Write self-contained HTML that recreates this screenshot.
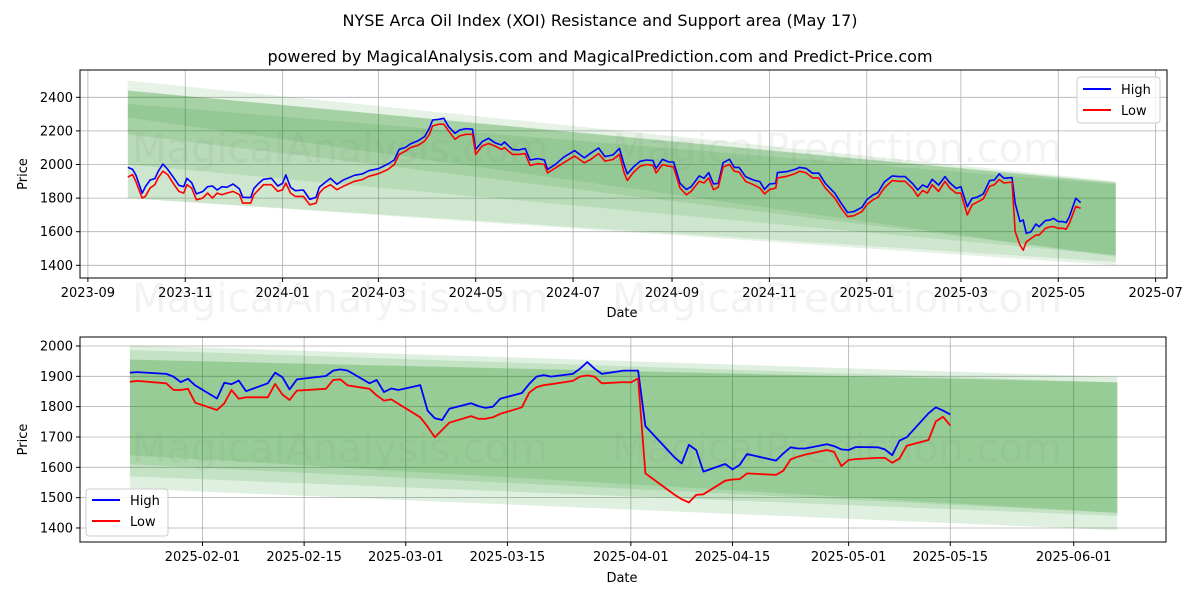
<!DOCTYPE html>
<html><head><meta charset="utf-8"><style>
body{margin:0;background:#fff}
svg{display:block;font-family:"DejaVu Sans","Liberation Sans",sans-serif}
</style></head><body>
<svg id="chart" width="1200" height="600" viewBox="0 0 1200 600" xmlns="http://www.w3.org/2000/svg">
<rect width="1200" height="600" fill="#fff"/>
<text x="600" y="26" font-size="16" text-anchor="middle">NYSE Arca Oil Index (XOI) Resistance and Support area (May 17)</text>
<text x="600" y="62" font-size="16" text-anchor="middle">powered by MagicalAnalysis.com and MagicalPrediction.com and Predict-Price.com</text>
<g id="top"></g>
<g id="bot"></g>
</svg>
<script>
// ---- top chart data (days since 2023-09-01) ----
const topDays=[25,28,30,34,36,39,42,44,47,50,54,57,60,62,65,68,72,75,78,81,84,87,91,95,97,102,104,107,110,115,119,122,124,127,130,135,139,143,145,148,152,156,160,167,172,176,182,188,192,195,199,202,207,211,214,216,220,223,226,230,233,237,241,243,247,251,255,259,261,266,270,274,277,282,286,288,293,298,305,311,315,320,324,329,333,336,338,342,346,350,354,356,360,364,367,371,375,378,383,386,389,392,395,398,402,405,408,412,417,421,424,427,431,432,438,443,446,450,454,458,462,468,472,476,480,485,488,492,495,499,504,508,512,517,520,523,526,529,533,537,540,544,547,551,554,557,561,565,568,571,574,579,581,584,586,588,591,594,596,600,603,605,608,611,613,615,619,622];
const topHigh=[1983,1971,1938,1829,1868,1908,1916,1958,2003,1971,1918,1876,1868,1918,1892,1825,1839,1868,1872,1848,1868,1864,1884,1854,1805,1803,1858,1888,1912,1918,1872,1888,1938,1864,1844,1848,1793,1805,1864,1888,1918,1882,1908,1936,1944,1963,1975,2003,2027,2090,2102,2122,2142,2166,2216,2265,2269,2275,2225,2186,2206,2213,2210,2090,2136,2156,2130,2116,2134,2090,2087,2095,2027,2035,2027,1971,2001,2043,2083,2039,2067,2098,2047,2057,2096,1997,1944,1987,2019,2027,2023,1977,2031,2015,2015,1888,1852,1868,1932,1918,1952,1884,1888,2011,2031,1983,1983,1928,1908,1898,1852,1884,1888,1952,1958,1971,1983,1977,1948,1948,1888,1829,1769,1714,1720,1745,1789,1819,1832,1896,1932,1928,1928,1884,1848,1878,1864,1912,1878,1928,1892,1858,1868,1749,1799,1805,1825,1904,1908,1944,1918,1922,1769,1660,1670,1590,1600,1646,1630,1666,1670,1680,1660,1660,1654,1690,1799,1773];
const topLow=[1925,1940,1900,1800,1810,1860,1880,1920,1960,1940,1880,1840,1830,1880,1860,1790,1800,1830,1800,1830,1820,1830,1840,1820,1770,1770,1820,1850,1880,1880,1840,1850,1890,1830,1810,1810,1760,1770,1830,1860,1880,1850,1870,1900,1910,1930,1945,1970,2000,2060,2080,2100,2115,2140,2180,2230,2240,2240,2200,2150,2170,2180,2180,2060,2110,2125,2110,2090,2100,2060,2060,2065,1995,2005,2000,1950,1980,2010,2050,2010,2030,2065,2020,2030,2060,1950,1905,1955,1990,2000,1995,1950,2000,1990,1985,1860,1820,1840,1900,1890,1920,1850,1865,1985,2000,1960,1955,1900,1880,1860,1825,1850,1860,1920,1930,1945,1960,1950,1920,1920,1860,1800,1740,1690,1695,1720,1760,1790,1805,1860,1905,1900,1900,1855,1810,1845,1830,1880,1840,1900,1860,1830,1830,1700,1760,1775,1795,1870,1880,1910,1890,1895,1600,1520,1490,1540,1560,1580,1580,1620,1630,1630,1620,1620,1615,1650,1750,1740];
const topBandStartDay=25, topBandEndDay=644;
const topBandsTop0=[2500,2440,2440,2440,2360];
const topBandsBot0=[1800,1800,2000,2180,2280];
const topBandsTop1=[1900,1895,1890,1890,1880];
const topBandsBot1=[1400,1420,1460,1460,1450];
const topYTicks=[1400,1600,1800,2000,2200,2400];
const topXTicks=["2023-09","2023-11","2024-01","2024-03","2024-05","2024-07","2024-09","2024-11","2025-01","2025-03","2025-05","2025-07"];
// ---- bottom chart data ----
const botDates=["2025-01-22","2025-01-23","2025-01-27","2025-01-28","2025-01-29","2025-01-30","2025-01-31","2025-02-03","2025-02-04","2025-02-05","2025-02-06","2025-02-07","2025-02-10","2025-02-11","2025-02-12","2025-02-13","2025-02-14","2025-02-18","2025-02-19","2025-02-20","2025-02-21","2025-02-24","2025-02-25","2025-02-26","2025-02-27","2025-02-28","2025-03-03","2025-03-04","2025-03-05","2025-03-06","2025-03-07","2025-03-10","2025-03-11","2025-03-12","2025-03-13","2025-03-14","2025-03-17","2025-03-18","2025-03-19","2025-03-20","2025-03-21","2025-03-24","2025-03-25","2025-03-26","2025-03-27","2025-03-28","2025-03-31","2025-04-01","2025-04-02","2025-04-03","2025-04-07","2025-04-08","2025-04-09","2025-04-10","2025-04-11","2025-04-14","2025-04-15","2025-04-16","2025-04-17","2025-04-21","2025-04-22","2025-04-23","2025-04-24","2025-04-25","2025-04-28","2025-04-29","2025-04-30","2025-05-01","2025-05-02","2025-05-05","2025-05-06","2025-05-07","2025-05-08","2025-05-09","2025-05-12","2025-05-13","2025-05-14","2025-05-15"];
const botHigh=[1912,1914,1908,1899,1881,1892,1870,1827,1879,1874,1886,1851,1877,1912,1897,1857,1890,1901,1919,1923,1919,1877,1888,1848,1860,1855,1871,1787,1762,1756,1793,1811,1802,1796,1800,1826,1845,1875,1899,1904,1899,1908,1925,1947,1925,1908,1919,1919,1919,1736,1633,1613,1674,1657,1586,1611,1593,1608,1644,1622,1646,1666,1662,1662,1676,1670,1659,1657,1667,1666,1659,1640,1688,1699,1778,1798,1787,1774];
const botLow=[1882,1885,1877,1855,1855,1859,1813,1789,1811,1855,1826,1831,1831,1875,1840,1822,1853,1859,1888,1890,1870,1859,1837,1820,1824,1809,1765,1734,1699,1723,1747,1769,1760,1760,1765,1776,1798,1846,1864,1871,1874,1885,1899,1903,1899,1877,1881,1880,1893,1580,1510,1495,1484,1509,1511,1556,1560,1561,1580,1575,1589,1626,1635,1642,1657,1651,1604,1624,1627,1631,1631,1615,1629,1671,1690,1751,1767,1738];
const botBandStart="2025-01-22", botBandEnd="2025-06-07";
const botBandsTop0=[2003,1987,1955,1955];
const botBandsBot0=[1530,1570,1610,1640];
const botBandsTop1=[1898,1880,1880,1880];
const botBandsBot1=[1393,1440,1450,1450];
const botYTicks=[1400,1500,1600,1700,1800,1900,2000];
const botXTicks=["2025-02-01","2025-02-15","2025-03-01","2025-03-15","2025-04-01","2025-04-15","2025-05-01","2025-05-15","2025-06-01"];

const NS="http://www.w3.org/2000/svg";
function mk(parent,tag,attrs){const e=document.createElementNS(NS,tag);for(const k in attrs)e.setAttribute(k,attrs[k]);parent.appendChild(e);return e;}
const dayMs=86400000;
function dnum(s){const p=s.split("-").map(Number);return Date.UTC(p[0],p[1]-1,p[2]||1)/dayMs;}

// ---- TOP ----
(function(){
const g=document.getElementById("top");
const L=80,R=1167,T=70,B=278;
const base=dnum("2023-09-01");
const x=d=>87.9+d*1.596;
const y=p=>97.3+(2400-p)*0.168;
const cp=mk(g,"clipPath",{id:"cpTop"});mk(cp,"rect",{x:L,y:T,width:R-L,height:B-T});
const grid=mk(g,"g",{});

topYTicks.forEach(v=>{mk(grid,"line",{x1:L,x2:R,y1:y(v),y2:y(v),stroke:"#b0b0b0","stroke-width":0.8});
 const t=mk(g,"text",{x:L-7,y:y(v)+4.5,"font-size":13,"text-anchor":"end"});t.textContent=v;
 
 mk(g,"line",{x1:L-4,x2:L,y1:y(v),y2:y(v),stroke:"#000"});});
topXTicks.forEach(s=>{const xx=x(dnum(s)-base);mk(grid,"line",{x1:xx,x2:xx,y1:T,y2:B,stroke:"#b0b0b0","stroke-width":0.8});
 mk(g,"line",{x1:xx,x2:xx,y1:B,y2:B+4,stroke:"#000"});
 const t=mk(g,"text",{x:xx,y:B+19,"font-size":13,"text-anchor":"middle"});t.textContent=s;
 });
const bands=mk(g,"g",{"clip-path":"url(#cpTop)"});

topBandsTop0.forEach((_,i)=>{const x0=x(topBandStartDay),x1=x(topBandEndDay);
 const p=mk(bands,"polygon",{points:`${x0},${y(topBandsTop0[i])} ${x1},${y(topBandsTop1[i])} ${x1},${y(topBandsBot1[i])} ${x0},${y(topBandsBot0[i])}`,fill:"#008000","fill-opacity":0.1});
 });
[["MagicalAnalysis.com",340,162],["MagicalPrediction.com",837,162],["MagicalAnalysis.com",340,312],["MagicalPrediction.com",837,312]].forEach(w=>{
 const t=mk(g,"text",{x:w[1],y:w[2],"font-size":40,"text-anchor":"middle",fill:"#888","fill-opacity":0.1});t.textContent=w[0];
 });
const hp=topDays.map((d,i)=>`${x(d).toFixed(1)},${y(topHigh[i]).toFixed(1)}`).join(" ");
const lp=topDays.map((d,i)=>`${x(d).toFixed(1)},${y(topLow[i]).toFixed(1)}`).join(" ");
const h=mk(g,"polyline",{points:hp,fill:"none",stroke:"#0000ff","stroke-width":1.6,"stroke-linejoin":"round"});

const l=mk(g,"polyline",{points:lp,fill:"none",stroke:"#ff0000","stroke-width":1.6,"stroke-linejoin":"round"});

mk(g,"rect",{x:L,y:T,width:R-L,height:B-T,fill:"none",stroke:"#000","stroke-width":1});
const yl=mk(g,"text",{x:27,y:(T+B)/2,"font-size":13,"text-anchor":"middle",transform:`rotate(-90 27 ${(T+B)/2})`});yl.textContent="Price";

const xl=mk(g,"text",{x:622,y:317,"font-size":13,"text-anchor":"middle"});xl.textContent="Date";

const lg=mk(g,"g",{});
mk(lg,"rect",{x:1077,y:77,width:83,height:46,rx:3,fill:"#fff","fill-opacity":0.8,stroke:"#ccc"});
mk(lg,"line",{x1:1083,x2:1111,y1:89,y2:89,stroke:"#0000ff","stroke-width":2});
mk(lg,"line",{x1:1083,x2:1111,y1:110,y2:110,stroke:"#ff0000","stroke-width":2});
let t1=mk(lg,"text",{x:1121,y:94,"font-size":13});t1.textContent="High";
let t2=mk(lg,"text",{x:1121,y:115,"font-size":13});t2.textContent="Low";
})();

// ---- BOTTOM ----
(function(){
const g=document.getElementById("bot");
const L=80,R=1166,T=337,B=542;
const base=dnum("2025-02-01");
const x=s=>202.5+(dnum(s)-base)*7.26;
const y=p=>346+(2000-p)*0.3033;
const cp=mk(g,"clipPath",{id:"cpBot"});mk(cp,"rect",{x:L,y:T,width:R-L,height:B-T});
const grid=mk(g,"g",{});

botYTicks.forEach(v=>{mk(grid,"line",{x1:L,x2:R,y1:y(v),y2:y(v),stroke:"#b0b0b0","stroke-width":0.8});
 mk(g,"line",{x1:L-4,x2:L,y1:y(v),y2:y(v),stroke:"#000"});
 const t=mk(g,"text",{x:L-7,y:y(v)+4.5,"font-size":13,"text-anchor":"end"});t.textContent=v;
 });
botXTicks.forEach(s=>{const xx=x(s);mk(grid,"line",{x1:xx,x2:xx,y1:T,y2:B,stroke:"#b0b0b0","stroke-width":0.8});
 mk(g,"line",{x1:xx,x2:xx,y1:B,y2:B+4,stroke:"#000"});
 const t=mk(g,"text",{x:xx,y:B+19,"font-size":13,"text-anchor":"middle"});t.textContent=s;
 });
const bands=mk(g,"g",{"clip-path":"url(#cpBot)"});

botBandsTop0.forEach((_,i)=>{const x0=x(botBandStart),x1=x(botBandEnd);
 const p=mk(bands,"polygon",{points:`${x0},${y(botBandsTop0[i])} ${x1},${y(botBandsTop1[i])} ${x1},${y(botBandsBot1[i])} ${x0},${y(botBandsBot0[i])}`,fill:"#008000","fill-opacity":0.12});
 });
[["MagicalAnalysis.com",340,462],["MagicalPrediction.com",837,462]].forEach(w=>{
 const t=mk(g,"text",{x:w[1],y:w[2],"font-size":40,"text-anchor":"middle",fill:"#888","fill-opacity":0.1});t.textContent=w[0];
 });
const hp=botDates.map((d,i)=>`${x(d).toFixed(1)},${y(botHigh[i]).toFixed(1)}`).join(" ");
const lp=botDates.map((d,i)=>`${x(d).toFixed(1)},${y(botLow[i]).toFixed(1)}`).join(" ");
const h=mk(g,"polyline",{points:hp,fill:"none",stroke:"#0000ff","stroke-width":1.8,"stroke-linejoin":"round"});

const l=mk(g,"polyline",{points:lp,fill:"none",stroke:"#ff0000","stroke-width":1.8,"stroke-linejoin":"round"});

mk(g,"rect",{x:L,y:T,width:R-L,height:B-T,fill:"none",stroke:"#000","stroke-width":1});
const yl=mk(g,"text",{x:27,y:(T+B)/2,"font-size":13,"text-anchor":"middle",transform:`rotate(-90 27 ${(T+B)/2})`});yl.textContent="Price";

const xl=mk(g,"text",{x:622,y:582,"font-size":13,"text-anchor":"middle"});xl.textContent="Date";

const lg=mk(g,"g",{});
mk(lg,"rect",{x:86,y:489,width:82,height:47,rx:3,fill:"#fff","fill-opacity":0.8,stroke:"#ccc"});
mk(lg,"line",{x1:92,x2:120,y1:500,y2:500,stroke:"#0000ff","stroke-width":2});
mk(lg,"line",{x1:92,x2:120,y1:521,y2:521,stroke:"#ff0000","stroke-width":2});
let t1=mk(lg,"text",{x:130,y:505,"font-size":13});t1.textContent="High";
let t2=mk(lg,"text",{x:130,y:526,"font-size":13});t2.textContent="Low";
})();
</script>
</body></html>
